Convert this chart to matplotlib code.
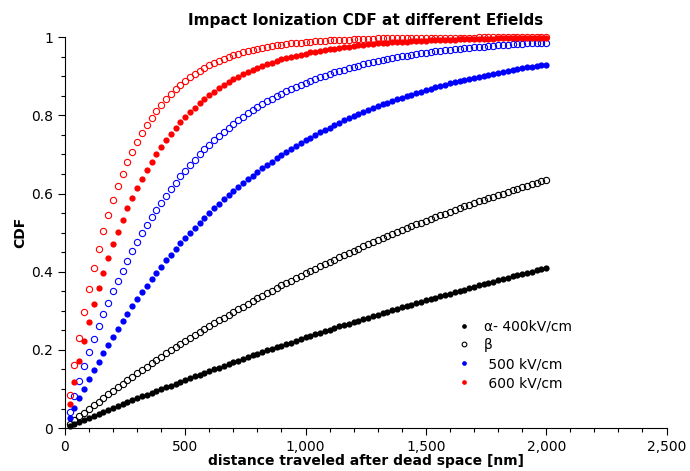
import numpy as np
import matplotlib.pyplot as plt
from matplotlib.ticker import FuncFormatter, MultipleLocator

# distance after dead space [nm], one sample every 20 nm
distance = np.arange(20, 2001, 20)

cdf_400 = [0.005, 0.010, 0.016, 0.021, 0.026, 0.031, 0.036, 0.041, 0.046, 0.051,
           0.056, 0.061, 0.066, 0.071, 0.076, 0.081, 0.086, 0.090, 0.095, 0.100,
           0.105, 0.109, 0.114, 0.119, 0.123, 0.128, 0.133, 0.137, 0.142, 0.146,
           0.151, 0.155, 0.160, 0.164, 0.168, 0.173, 0.177, 0.181, 0.186, 0.190,
           0.194, 0.199, 0.203, 0.207, 0.211, 0.215, 0.219, 0.224, 0.228, 0.232,
           0.236, 0.240, 0.244, 0.248, 0.252, 0.256, 0.260, 0.263, 0.267, 0.271,
           0.275, 0.279, 0.283, 0.286, 0.290, 0.294, 0.298, 0.301, 0.305, 0.309,
           0.312, 0.316, 0.320, 0.323, 0.327, 0.330, 0.334, 0.337, 0.341, 0.344,
           0.348, 0.351, 0.354, 0.358, 0.361, 0.365, 0.368, 0.371, 0.375, 0.378,
           0.381, 0.384, 0.388, 0.391, 0.394, 0.397, 0.400, 0.404, 0.407, 0.410]

cdf_beta = [0.010, 0.020, 0.030, 0.040, 0.049, 0.059, 0.068, 0.077, 0.087, 0.096,
            0.105, 0.114, 0.123, 0.132, 0.140, 0.149, 0.157, 0.166, 0.174, 0.183,
            0.191, 0.199, 0.207, 0.215, 0.223, 0.231, 0.238, 0.246, 0.253, 0.261,
            0.268, 0.276, 0.283, 0.290, 0.297, 0.304, 0.311, 0.318, 0.325, 0.332,
            0.339, 0.345, 0.352, 0.358, 0.365, 0.371, 0.377, 0.384, 0.390, 0.396,
            0.402, 0.408, 0.414, 0.420, 0.426, 0.431, 0.437, 0.443, 0.448, 0.454,
            0.459, 0.465, 0.470, 0.475, 0.481, 0.486, 0.491, 0.496, 0.501, 0.506,
            0.511, 0.516, 0.521, 0.526, 0.530, 0.535, 0.540, 0.544, 0.549, 0.554,
            0.558, 0.562, 0.567, 0.571, 0.575, 0.580, 0.584, 0.588, 0.592, 0.596,
            0.600, 0.604, 0.608, 0.612, 0.616, 0.620, 0.624, 0.628, 0.631, 0.635]

cdf_500 = [0.026, 0.052, 0.077, 0.101, 0.125, 0.148, 0.170, 0.192, 0.213, 0.234,
           0.254, 0.274, 0.293, 0.312, 0.330, 0.347, 0.364, 0.381, 0.397, 0.413,
           0.429, 0.444, 0.458, 0.473, 0.487, 0.500, 0.513, 0.526, 0.538, 0.551,
           0.562, 0.574, 0.585, 0.596, 0.607, 0.617, 0.627, 0.637, 0.646, 0.656,
           0.665, 0.674, 0.682, 0.691, 0.699, 0.707, 0.714, 0.722, 0.729, 0.736,
           0.743, 0.750, 0.757, 0.763, 0.769, 0.775, 0.781, 0.787, 0.793, 0.798,
           0.803, 0.809, 0.814, 0.818, 0.823, 0.828, 0.832, 0.837, 0.841, 0.845,
           0.849, 0.853, 0.857, 0.861, 0.865, 0.868, 0.872, 0.875, 0.878, 0.882,
           0.885, 0.888, 0.891, 0.894, 0.896, 0.899, 0.902, 0.904, 0.907, 0.909,
           0.912, 0.914, 0.916, 0.918, 0.921, 0.923, 0.925, 0.927, 0.929, 0.930]

cdf_500_open = [0.042, 0.082, 0.121, 0.158, 0.194, 0.227, 0.260, 0.291, 0.321, 0.350,
                0.377, 0.403, 0.428, 0.452, 0.475, 0.498, 0.519, 0.539, 0.558, 0.577,
                0.595, 0.612, 0.628, 0.644, 0.659, 0.673, 0.687, 0.700, 0.713, 0.725,
                0.736, 0.747, 0.758, 0.768, 0.778, 0.787, 0.796, 0.805, 0.813, 0.821,
                0.829, 0.836, 0.843, 0.849, 0.856, 0.862, 0.868, 0.873, 0.878, 0.884,
                0.888, 0.893, 0.898, 0.902, 0.906, 0.910, 0.914, 0.917, 0.921, 0.924,
                0.927, 0.931, 0.933, 0.936, 0.939, 0.942, 0.944, 0.946, 0.949, 0.951,
                0.953, 0.955, 0.957, 0.959, 0.960, 0.962, 0.964, 0.965, 0.967, 0.968,
                0.969, 0.971, 0.972, 0.973, 0.974, 0.975, 0.976, 0.977, 0.978, 0.979,
                0.980, 0.981, 0.982, 0.982, 0.983, 0.984, 0.985, 0.985, 0.986, 0.986]

cdf_600 = [0.062, 0.119, 0.173, 0.224, 0.272, 0.317, 0.359, 0.398, 0.435, 0.470,
           0.503, 0.533, 0.562, 0.589, 0.614, 0.638, 0.660, 0.681, 0.701, 0.719,
           0.736, 0.753, 0.768, 0.782, 0.796, 0.808, 0.820, 0.831, 0.841, 0.851,
           0.860, 0.869, 0.877, 0.885, 0.892, 0.898, 0.905, 0.910, 0.916, 0.921,
           0.926, 0.931, 0.935, 0.939, 0.943, 0.946, 0.949, 0.953, 0.955, 0.958,
           0.961, 0.963, 0.965, 0.968, 0.970, 0.971, 0.973, 0.975, 0.976, 0.978,
           0.979, 0.980, 0.982, 0.983, 0.984, 0.985, 0.986, 0.987, 0.987, 0.988,
           0.989, 0.990, 0.990, 0.991, 0.991, 0.992, 0.992, 0.993, 0.993, 0.994,
           0.994, 0.995, 0.995, 0.995, 0.995, 0.996, 0.996, 0.996, 0.996, 0.997,
           0.997, 0.997, 0.997, 0.997, 0.998, 0.998, 0.998, 0.998, 0.998, 0.998]

cdf_600_open = [0.084, 0.161, 0.231, 0.296, 0.355, 0.409, 0.459, 0.504, 0.546, 0.584,
                0.619, 0.651, 0.680, 0.707, 0.732, 0.754, 0.775, 0.794, 0.811, 0.827,
                0.842, 0.855, 0.867, 0.878, 0.888, 0.898, 0.906, 0.914, 0.921, 0.928,
                0.934, 0.940, 0.945, 0.949, 0.954, 0.958, 0.961, 0.964, 0.967, 0.970,
                0.973, 0.975, 0.977, 0.979, 0.981, 0.982, 0.984, 0.985, 0.986, 0.988,
                0.989, 0.990, 0.990, 0.991, 0.992, 0.993, 0.993, 0.994, 0.994, 0.995,
                0.995, 0.996, 0.996, 0.996, 0.997, 0.997, 0.997, 0.997, 0.998, 0.998,
                0.998, 0.998, 0.998, 0.999, 0.999, 0.999, 0.999, 0.999, 0.999, 0.999,
                0.999, 0.999, 0.999, 0.999, 0.999, 1.000, 1.000, 1.000, 1.000, 1.000,
                1.000, 1.000, 1.000, 1.000, 1.000, 1.000, 1.000, 1.000, 1.000, 1.000]

fig = plt.figure(figsize=(6.9, 4.71), dpi=100)
ax = fig.add_axes([0.094, 0.091, 0.872, 0.830])

ms = 4.5
ax.plot(distance, cdf_400, 'o', color='black', ms=ms, mew=0, clip_on=False, label='\u03b1- 400kV/cm')
ax.plot(distance, cdf_beta, 'o', mfc='none', mec='black', ms=ms, mew=0.8, clip_on=False, label='\u03b2')
ax.plot(distance, cdf_500, 'o', color='blue', ms=ms, mew=0, clip_on=False, label=' 500 kV/cm')
ax.plot(distance, cdf_500_open, 'o', mfc='none', mec='blue', ms=ms, mew=0.8, clip_on=False)
ax.plot(distance, cdf_600, 'o', color='red', ms=ms, mew=0, clip_on=False, label=' 600 kV/cm')
ax.plot(distance, cdf_600_open, 'o', mfc='none', mec='red', ms=ms, mew=0.8, clip_on=False)

ax.set_xlim(0, 2500)
ax.set_ylim(0, 1)
ax.xaxis.set_major_locator(MultipleLocator(500))
ax.xaxis.set_minor_locator(MultipleLocator(100))
ax.yaxis.set_major_locator(MultipleLocator(0.2))
ax.yaxis.set_minor_locator(MultipleLocator(0.05))
ax.xaxis.set_major_formatter(FuncFormatter(lambda v, p: f'{int(v):,}'))
ax.yaxis.set_major_formatter(FuncFormatter(lambda v, p: f'{v:g}'))
ax.tick_params(which='major', length=5, width=0.8, labelsize=10)
ax.tick_params(which='minor', length=3, width=0.8)
for s in ['top', 'right']:
    ax.spines[s].set_visible(False)

ax.set_title('Impact Ionization CDF at different Efields', fontsize=11, fontweight='bold', pad=9)
ax.set_xlabel('distance traveled after dead space [nm]', fontsize=10, fontweight='bold', labelpad=0)
ax.set_ylabel('CDF', fontsize=10, fontweight='bold', labelpad=3)

ax.legend(loc='upper left', bbox_to_anchor=(0.62, 0.31), frameon=False, fontsize=10,
          markerscale=0.75, handletextpad=0.4, labelspacing=0.35)

fig.savefig('out.png', dpi=100)
